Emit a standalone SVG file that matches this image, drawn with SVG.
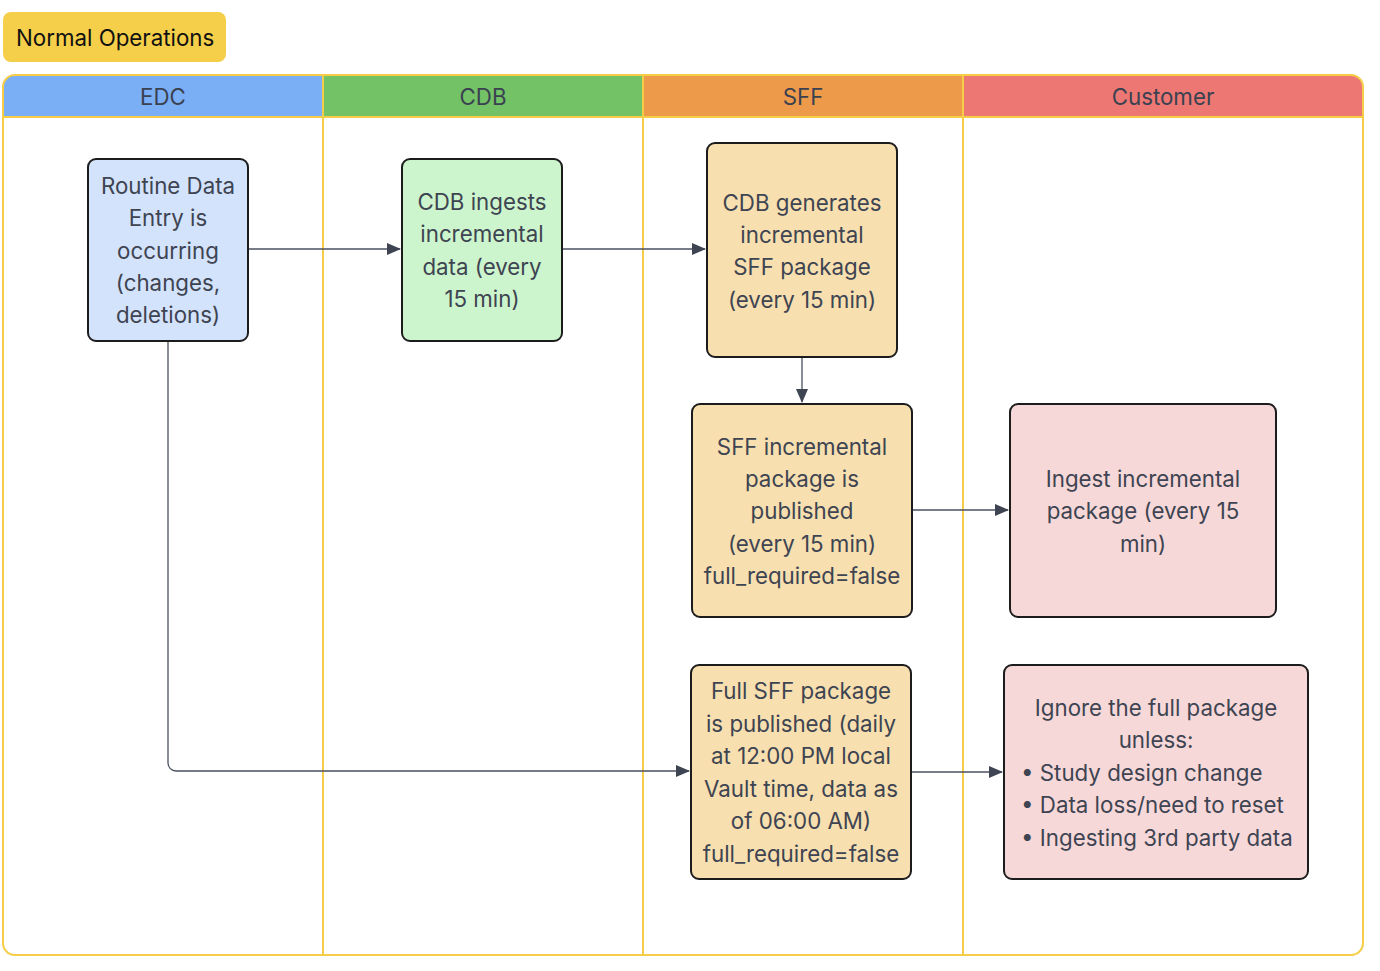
<svg xmlns="http://www.w3.org/2000/svg" width="1380" height="971" viewBox="0 0 1380 971">
<defs>
<style>
text{font-family:Inter,"Noto Sans","Liberation Sans",sans-serif;font-size:22.3px;fill:#3e4451;text-anchor:middle}
.hdr{font-size:22.3px;fill:#3a4150}
.node{stroke:#1c1c1c;stroke-width:2}
.lane{stroke:#f5cd47;stroke-width:2;fill:none}
.conn{stroke:#4a5160;stroke-width:1.3;fill:none}
</style>
<marker id="arr" markerWidth="14" markerHeight="12" refX="13" refY="6" orient="auto" markerUnits="userSpaceOnUse">
<path d="M0,0 L14,6 L0,12 Z" fill="#3e4451"/>
</marker>
</defs>
<rect width="1380" height="971" fill="#ffffff"/>
<g id="title">
<rect x="3" y="12" width="223" height="50" rx="8" fill="#f5cf4a"/>
<text x="16" y="46" style="text-anchor:start;fill:#111">Normal Operations</text>
</g>
<g id="lanes">
<path d="M3,117 V87 A12,12 0 0 1 15,75 H323 V117 Z" fill="#7aaef5"/>
<rect x="323" y="75" width="320" height="42" fill="#73c266"/>
<rect x="643" y="75" width="320" height="42" fill="#ee9a4b"/>
<path d="M963,75 H1351 A12,12 0 0 1 1363,87 V117 H963 Z" fill="#ed7873"/>
<path class="lane" d="M15,75 H1351 A12,12 0 0 1 1363,87 V943 A12,12 0 0 1 1351,955 H15 A12,12 0 0 1 3,943 V87 A12,12 0 0 1 15,75 Z"/>
<line class="lane" x1="3" y1="117" x2="1363" y2="117"/>
<line class="lane" x1="323" y1="75" x2="323" y2="955"/>
<line class="lane" x1="643" y1="75" x2="643" y2="955"/>
<line class="lane" x1="963" y1="75" x2="963" y2="955"/>
<text class="hdr" x="163" y="105">EDC</text>
<text class="hdr" x="483" y="105">CDB</text>
<text class="hdr" x="803" y="105">SFF</text>
<text class="hdr" x="1163" y="105">Customer</text>
</g>
<g id="connectors">
<path class="conn" d="M248,249 H400" marker-end="url(#arr)"/>
<path class="conn" d="M562,249 H705" marker-end="url(#arr)"/>
<path class="conn" d="M802,357 V402" marker-end="url(#arr)"/>
<path class="conn" d="M912,510 H1008" marker-end="url(#arr)"/>
<path class="conn" d="M168,341 V763 A8,8 0 0 0 176,771 H689" marker-end="url(#arr)"/>
<path class="conn" d="M911,772 H1002" marker-end="url(#arr)"/>
</g>
<g id="n-edc">
<rect class="node" x="88" y="159" width="160" height="182" rx="8" fill="#d3e3fb"/>
<text x="168" y="194">Routine Data</text>
<text x="168" y="226">Entry is</text>
<text x="168" y="259">occurring</text>
<text x="168" y="291">(changes,</text>
<text x="168" y="323">deletions)</text>
</g>
<g id="n-cdb">
<rect class="node" x="402" y="159" width="160" height="182" rx="8" fill="#cdf5cd"/>
<text x="482" y="210">CDB ingests</text>
<text x="482" y="242">incremental</text>
<text x="482" y="275">data (every</text>
<text x="482" y="307">15 min)</text>
</g>
<g id="n-sff1">
<rect class="node" x="707" y="143" width="190" height="214" rx="8" fill="#f7dfb0"/>
<text x="802" y="211">CDB generates</text>
<text x="802" y="243">incremental</text>
<text x="802" y="275">SFF package</text>
<text x="802" y="308">(every 15 min)</text>
</g>
<g id="n-sff2">
<rect class="node" x="692" y="404" width="220" height="213" rx="8" fill="#f7dfb0"/>
<text x="802" y="455">SFF incremental</text>
<text x="802" y="487">package is</text>
<text x="802" y="519">published</text>
<text x="802" y="552">(every 15 min)</text>
<text x="802" y="584">full_required=false</text>
</g>
<g id="n-cust1">
<rect class="node" x="1010" y="404" width="266" height="213" rx="8" fill="#f7d8d9"/>
<text x="1143" y="487">Ingest incremental</text>
<text x="1143" y="519">package (every 15</text>
<text x="1143" y="552">min)</text>
</g>
<g id="n-sff3">
<rect class="node" x="691" y="665" width="220" height="214" rx="8" fill="#f7dfb0"/>
<text x="801" y="699">Full SFF package</text>
<text x="801" y="732">is published (daily</text>
<text x="801" y="764">at 12:00 PM local</text>
<text x="801" y="797">Vault time, data as</text>
<text x="801" y="829">of 06:00 AM)</text>
<text x="801" y="862">full_required=false</text>
</g>
<g id="n-cust2">
<rect class="node" x="1004" y="665" width="304" height="214" rx="8" fill="#f7d8d9"/>
<text x="1156" y="716">Ignore the full package</text>
<text x="1156" y="748">unless:</text>
<text x="1021" y="781" style="text-anchor:start">• Study design change</text>
<text x="1021" y="813" style="text-anchor:start">• Data loss/need to reset</text>
<text x="1021" y="846" style="text-anchor:start">• Ingesting 3rd party data</text>
</g>
</svg>
